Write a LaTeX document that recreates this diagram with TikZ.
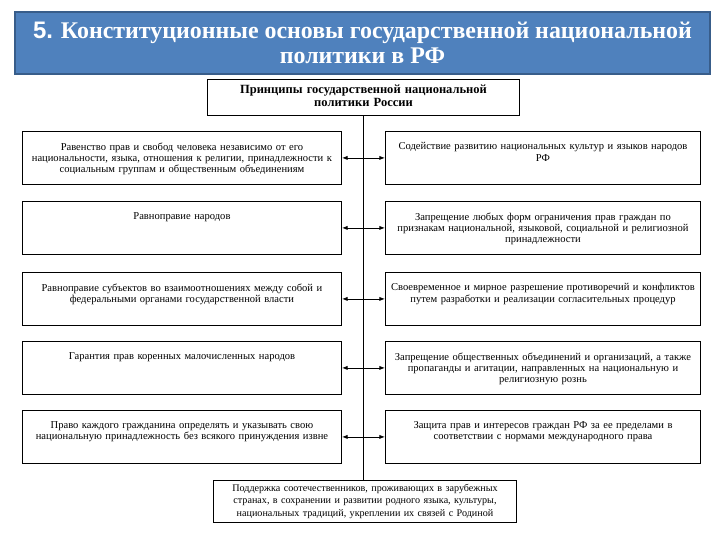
\documentclass[tikz,border=0pt]{standalone}
\usepackage{fontspec}
\setmainfont{Liberation Serif}
\setsansfont{Liberation Sans}
\usepackage{tikz}
\usetikzlibrary{arrows.meta, positioning}
\definecolor{banner}{HTML}{4F81BD}
\definecolor{bannerline}{HTML}{385D8A}
\newcommand{\boxtxt}[3][6pt]{\parbox[c][#2][t]{\linewidth}{\centering\vspace{#1}#3}}
\tikzset{%
	title/.style={draw=bannerline, line width=1pt, fill=banner, text=white, rectangle,%
		minimum width=494pt, minimum height=44pt, inner sep=0pt, align=center,%
		font=\bfseries\fontsize{17}{18}\selectfont},
	head/.style={draw, rectangle, line width=0.7pt, text width=216pt, inner xsep=3pt, inner ysep=0pt,%
		align=center, font=\bfseries\fontsize{8.9}{9.5}\selectfont},
	lbox/.style={draw, rectangle, line width=0.6pt, anchor=north west, text width=220.9pt,%
		inner xsep=3pt, inner ysep=2pt, align=center, font=\fontsize{7.5}{8}\selectfont},
	rbox/.style={lbox, text width=218.1pt},
	foot/.style={draw, rectangle, line width=0.6pt, anchor=north, text width=210pt, inner xsep=3pt,%
		inner ysep=1pt, align=center, font=\fontsize{7.2}{8.9}\selectfont},
	spine/.style={line width=0.6pt},
	sel/.style={-{Latex[length=4pt, width=3pt]}, line width=0.6pt}
}
\begin{document}
\begin{tikzpicture}[x=0.025cm, y=-0.025cm]
	\useasboundingbox (0,0) rectangle (720,540);
	\node[title] (ttl) at (362.5,43) {{\sffamily 5.} Конституционные основы государственной национальной\\политики в РФ};
	\node[head, anchor=north] (top) at (363.5,79) {\boxtxt[3.5pt]{25.6pt}{Принципы государственной национальной\\политики России}};

	% left column
	\node[lbox] (l1) at (22,131) {\boxtxt{33.7pt}{Равенство прав и свобод человека независимо от его\\национальности, языка, отношения к религии, принадлежности к\\социальным группам и общественным объединениям}};
	\node[lbox] (l2) at (22,201) {\boxtxt{33.7pt}{Равноправие народов}};
	\node[lbox] (l3) at (22,272) {\boxtxt{33.7pt}{Равноправие субъектов во взаимоотношениях между собой и\\федеральными органами государственной власти}};
	\node[lbox] (l4) at (22,341) {\boxtxt{33.7pt}{Гарантия прав коренных малочисленных народов}};
	\node[lbox] (l5) at (22,410) {\boxtxt{33.7pt}{Право каждого гражданина определять и указывать свою\\национальную принадлежность без всякого принуждения извне}};

	% right column
	\node[rbox] (r1) at (385,131) {\boxtxt{33.7pt}{Содействие развитию национальных культур и языков народов\\РФ}};
	\node[rbox] (r2) at (385,201) {\boxtxt{33.7pt}{Запрещение любых форм ограничения прав граждан по\\признакам национальной, языковой, социальной и религиозной\\принадлежности}};
	\node[rbox] (r3) at (385,272) {\boxtxt{33.7pt}{Своевременное и мирное разрешение противоречий и конфликтов\\путем разработки и реализации согласительных процедур}};
	\node[rbox] (r4) at (385,341) {\boxtxt{33.7pt}{Запрещение общественных объединений и организаций, а также\\пропаганды и агитации, направленных на национальную и\\религиозную рознь}};
	\node[rbox] (r5) at (385,410) {\boxtxt{33.7pt}{Защита прав и интересов граждан РФ за ее пределами в\\соответствии с нормами международного права}};

	\node[foot] (bot) at (365,480) {\boxtxt[1.5pt]{27.9pt}{Поддержка соотечественников, проживающих в зарубежных\\странах, в сохранении и развитии родного языка, культуры,\\национальных традиций, укреплении их связей с Родиной}};

	\draw[spine] (top.south) -- (top.south |- bot.north);
	\draw[sel] (top.south |- l1.east) -- (l1.east);
	\draw[sel] (top.south |- l2.east) -- (l2.east);
	\draw[sel] (top.south |- l3.east) -- (l3.east);
	\draw[sel] (top.south |- l4.east) -- (l4.east);
	\draw[sel] (top.south |- l5.east) -- (l5.east);
	\draw[sel] (top.south |- r1.west) -- (r1.west);
	\draw[sel] (top.south |- r2.west) -- (r2.west);
	\draw[sel] (top.south |- r3.west) -- (r3.west);
	\draw[sel] (top.south |- r4.west) -- (r4.west);
	\draw[sel] (top.south |- r5.west) -- (r5.west);
\end{tikzpicture}
\end{document}
